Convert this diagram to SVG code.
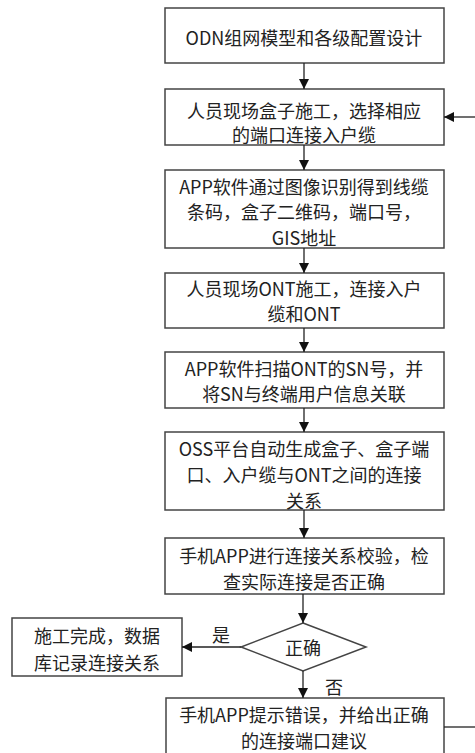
<svg xmlns="http://www.w3.org/2000/svg" width="475" height="753" viewBox="0 0 475 753">
<defs>
<marker id="ah" viewBox="0 0 10 10" refX="10" refY="5" markerWidth="10" markerHeight="10" markerUnits="userSpaceOnUse" orient="auto">
<path d="M0,0 L10,5 L0,10 Z" fill="#111"/>
</marker>
<style>
.box{fill:#fff;stroke:#444;stroke-width:1.5}
.t{font-family:"Noto Sans CJK SC","Noto Sans",sans-serif;font-size:18px;fill:#222;text-anchor:middle;dominant-baseline:central}
.c{fill:none;stroke:#222;stroke-width:1.3;marker-end:url(#ah)}
.l{fill:none;stroke:#222;stroke-width:1.3}
</style>
</defs>
<rect width="475" height="753" fill="#fff"/>
<g id="n1"><rect class="box" x="165" y="8" width="279" height="55"/><text class="t" x="304" y="37">ODN组网模型和各级配置设计</text></g>
<g id="n2"><rect class="box" x="165" y="89" width="279" height="56"/><text class="t" x="304" y="110">人员现场盒子施工，选择相应</text><text class="t" x="304" y="134">的端口连接入户缆</text></g>
<g id="n3"><rect class="box" x="165" y="170" width="279" height="78"/><text class="t" x="304" y="186">APP软件通过图像识别得到线缆</text><text class="t" x="304" y="211">条码，盒子二维码，端口号，</text><text class="t" x="304" y="237">GIS地址</text></g>
<g id="n4"><rect class="box" x="165" y="273" width="279" height="55"/><text class="t" x="304" y="288">人员现场ONT施工，连接入户</text><text class="t" x="304" y="313">缆和ONT</text></g>
<g id="n5"><rect class="box" x="165" y="352" width="279" height="56"/><text class="t" x="304" y="368">APP软件扫描ONT的SN号，并</text><text class="t" x="304" y="393">将SN与终端用户信息关联</text></g>
<g id="n6"><rect class="box" x="165" y="432" width="279" height="78"/><text class="t" x="304" y="448">OSS平台自动生成盒子、盒子端</text><text class="t" x="304" y="474">口、入户缆与ONT之间的连接</text><text class="t" x="304" y="500">关系</text></g>
<g id="n7"><rect class="box" x="165" y="538" width="279" height="56"/><text class="t" x="304" y="555">手机APP进行连接关系校验，检</text><text class="t" x="304" y="581">查实际连接是否正确</text></g>
<g id="d1"><polygon class="box" points="303,623 366,647 303,671 241,647"/><text class="t" x="303" y="647">正确</text></g>
<g id="n8"><rect class="box" x="12" y="618" width="170" height="58"/><text class="t" x="97" y="635">施工完成，数据</text><text class="t" x="97" y="662">库记录连接关系</text></g>
<g id="n9"><rect class="box" x="166" y="698" width="278" height="60"/><text class="t" x="304" y="714">手机APP提示错误，并给出正确</text><text class="t" x="304" y="740">的连接端口建议</text></g>
<g id="edges">
<line class="c" x1="304" y1="63" x2="304" y2="89"/>
<line class="c" x1="304" y1="145" x2="304" y2="170"/>
<line class="c" x1="304" y1="248" x2="304" y2="273"/>
<line class="c" x1="304" y1="328" x2="304" y2="352"/>
<line class="c" x1="304" y1="408" x2="304" y2="432"/>
<line class="c" x1="304" y1="510" x2="304" y2="538"/>
<line class="c" x1="303" y1="594" x2="303" y2="623"/>
<line class="c" x1="241" y1="647" x2="182" y2="647"/>
<line class="c" x1="303" y1="671" x2="303" y2="698"/>
<line class="l" x1="444" y1="727" x2="475" y2="727"/>
<line class="c" x1="475" y1="117" x2="444" y2="117"/>
<text class="t" x="221" y="634">是</text>
<text class="t" x="334" y="686">否</text>
</g>
</svg>
